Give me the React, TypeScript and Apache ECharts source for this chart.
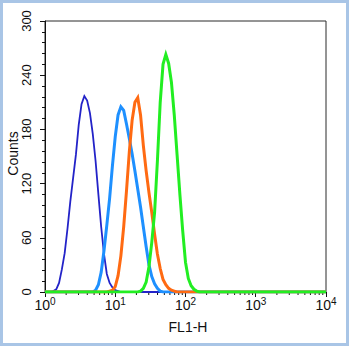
import React, { useEffect, useRef } from "react";
import * as echarts from "echarts";

// Histogram channels: bin i sits at 10^(i * binDecades) on the FL1-H axis
const binDecades = 0.04;
const binCount = 101;

// Counts per series, starting at the given bin index (other bins are 0)
const darkBlueStart = 2;
const darkBlue = [0, 1, 3, 10, 25, 43, 70, 100, 126, 152, 185, 208, 217, 212, 198, 175, 145, 108, 72, 42, 20, 10, 5, 2, 1, 0];

const lightBlueStart = 17;
const lightBlue = [0, 2, 8, 22, 46, 74, 104, 140, 172, 196, 205, 201, 186, 170, 153, 134, 114, 94, 72, 50, 30, 17, 9, 4, 1, 0];

const orangeStart = 22;
const orange = [0, 1, 2, 6, 18, 40, 72, 112, 155, 190, 210, 215, 196, 162, 134, 110, 88, 64, 42, 26, 14, 8, 4, 2, 1, 0];

const greenStart = 33;
const green = [0, 1, 4, 11, 28, 55, 88, 145, 210, 252, 263, 253, 232, 196, 152, 108, 68, 33, 15, 7, 3, 1, 0];

const yTicks = [0, 60, 120, 180, 240, 300];
const xDecades = [0, 1, 2, 3, 4];

const FONT = "'Liberation Sans', Arial, Helvetica, sans-serif";
const TEXT = "#111111";

function buildSeries(start: number, counts: number[]) {
  const out: number[][] = [];
  for (let i = 0; i < binCount; i++) {
    const k = i - start;
    const y = k >= 0 && k < counts.length ? counts[k] : 0;
    out.push([Math.pow(10, i * binDecades), y]);
  }
  return out;
}

function minorTickValues() {
  const vals: number[] = [];
  for (let d = 0; d < xDecades.length - 1; d++) {
    for (let k = 2; k <= 9; k++) vals.push(k * Math.pow(10, xDecades[d]));
  }
  return vals;
}

export default function App() {
  const ref = useRef<HTMLDivElement>(null);

  useEffect(() => {
    if (!ref.current) return;
    const chart = echarts.init(ref.current, undefined, { renderer: "svg" });

    const lineSeries = (name: string, color: string, width: number, start: number, counts: number[]) => ({
      name,
      type: "line",
      showSymbol: false,
      symbol: "none",
      data: buildSeries(start, counts),
      lineStyle: { color, width, join: "miter" },
      itemStyle: { color },
      z: 3,
    });

    chart.setOption({
      animation: false,
      backgroundColor: "#ffffff",
      grid: {
        left: 45,
        right: 24,
        top: 21,
        bottom: 55,
        containLabel: false,
        outerBoundsMode: "none",
        show: true,
        borderColor: "#2a2a2a",
        borderWidth: 1,
        backgroundColor: "transparent",
      },
      xAxis: {
        type: "log",
        logBase: 10,
        min: 1,
        max: 10000,
        name: "FL1-H",
        nameLocation: "middle",
        nameGap: 28,
        nameMoveOverlap: false,
        nameTextStyle: { fontFamily: FONT, fontSize: 14, color: TEXT, padding: [0, 0, 0, 5] },
        axisLine: { show: true, lineStyle: { color: "#111", width: 1 } },
        axisTick: { show: true, inside: false, length: 5, lineStyle: { color: "#111" } },
        splitLine: { show: false },
        minorTick: { show: false },
        axisLabel: {
          margin: 4,
          fontFamily: FONT,
          color: TEXT,
          formatter: (v: number) => `{b|10}{s|${Math.round(Math.log10(v))}}`,
          rich: {
            b: { fontSize: 14, lineHeight: 17, fontFamily: FONT, color: TEXT },
            s: { fontSize: 10, lineHeight: 11, verticalAlign: "top", fontFamily: FONT, color: TEXT },
          },
        },
      },
      yAxis: {
        type: "value",
        min: 0,
        max: 300,
        interval: 60,
        name: "Counts",
        nameLocation: "middle",
        nameGap: 25,
        nameMoveOverlap: false,
        nameRotate: 90,
        nameTextStyle: { fontFamily: FONT, fontSize: 14, color: TEXT, padding: [0, 0, 0, 6] },
        axisLine: { show: true, lineStyle: { color: "#111", width: 1 } },
        axisTick: { show: true, inside: false, length: 5, lineStyle: { color: "#111" } },
        minorTick: { show: true, splitNumber: 5, length: 3, lineStyle: { color: "#111" } },
        splitLine: { show: false },
        axisLabel: {
          rotate: 90,
          margin: 12,
          fontFamily: FONT,
          fontSize: 13,
          color: TEXT,
          formatter: (v: number) => (yTicks.includes(v) ? String(v) : ""),
        },
      },
      series: [
        lineSeries("Control", "#2323c8", 1.8, darkBlueStart, darkBlue),
        lineSeries("Sample 1", "#1e90ff", 3, lightBlueStart, lightBlue),
        lineSeries("Sample 2", "#ff6a12", 3, orangeStart, orange),
        lineSeries("Sample 3", "#22ee22", 3, greenStart, green),
        {
          type: "custom",
          name: "minorTicks",
          silent: true,
          clip: false,
          z: 1,
          data: minorTickValues().map((v) => [v, 0]),
          renderItem: (params: any, api: any) => {
            const p = api.coord([api.value(0), 0]);
            return {
              type: "line",
              shape: { x1: p[0], y1: p[1], x2: p[0], y2: p[1] + 3 },
              style: { stroke: "#111", lineWidth: 1 },
            };
          },
        },
      ],
      graphic: [
        {
          type: "rect",
          shape: { x: 1.5, y: 1.5, width: 346, height: 343 },
          style: { fill: "none", stroke: "#a9c5e6", lineWidth: 3 },
          silent: true,
          z: 10,
        },
      ],
    });

    return () => chart.dispose();
  }, []);

  return (
    <div
      ref={ref}
      style={{ position: "fixed", left: 0, top: 0, width: 350, height: 347 }}
    />
  );
}
